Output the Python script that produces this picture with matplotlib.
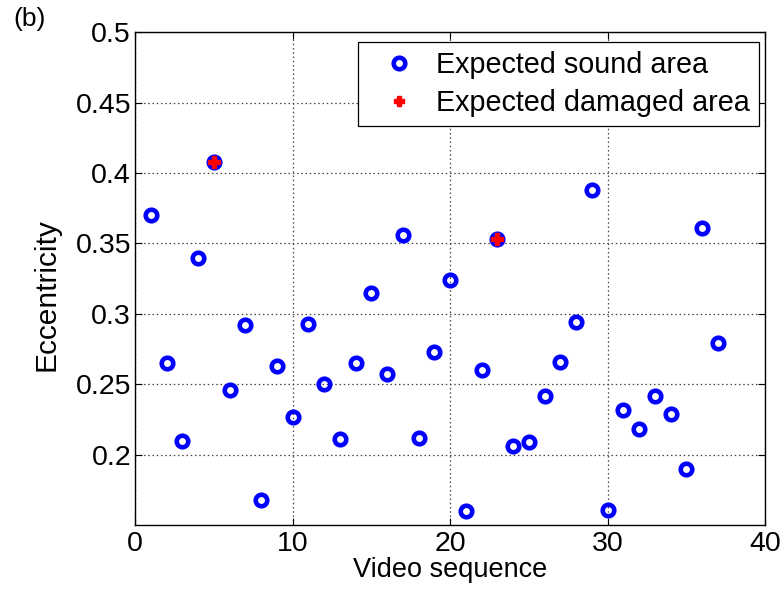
import matplotlib
matplotlib.use("Agg")
import matplotlib.pyplot as plt
import numpy as np

plt.rcParams["font.family"] = ["Liberation Sans", "DejaVu Sans"]

# eccentricity per video sequence
seq = np.arange(1, 38)
ecc = [0.370, 0.265, 0.210, 0.340, 0.408, 0.246, 0.292, 0.168, 0.263, 0.227,
       0.293, 0.250, 0.211, 0.265, 0.315, 0.257, 0.356, 0.212, 0.273, 0.324,
       0.160, 0.260, 0.353, 0.206, 0.209, 0.242, 0.266, 0.294, 0.388, 0.161,
       0.232, 0.218, 0.242, 0.229, 0.190, 0.361, 0.279]
damaged_seq = [5, 23]
damaged_ecc = [0.408, 0.353]

fig = plt.figure(figsize=(7.84, 5.98), dpi=100)
ax = fig.add_axes([0.1725, 0.122, 0.8033, 0.824])

ax.plot(seq, ecc, "o", ls="none", mfc="none", mec="#0000ff", mew=3.3, ms=8.3,
        label="Expected sound area")
ax.plot(damaged_seq, damaged_ecc, "P", ls="none", color="#ff0000", mec="#ff0000",
        ms=8.5, label="Expected damaged area")

ax.set_xlim(0, 40)
ax.set_ylim(0.15, 0.5)
ax.set_xticks([0, 10, 20, 30, 40])
ax.set_yticks([0.2, 0.25, 0.3, 0.35, 0.4, 0.45, 0.5])
ax.set_yticklabels(["0.2", "0.25", "0.3", "0.35", "0.4", "0.45", "0.5"])
ax.grid(True, ls=(0, (1.2, 2.2)), color="#444444", lw=0.9)
ax.tick_params(direction="in", top=True, right=True, length=5, labelsize=20.5)
ax.tick_params(axis="x", pad=4.5)
ax.tick_params(axis="y", pad=3)
for s in ax.spines.values():
    s.set_linewidth(1.0)

ax.set_xlabel("Video sequence", fontsize=19.5, labelpad=0)
ax.set_ylabel("Eccentricity", fontsize=21.5)
ax.yaxis.set_label_coords(-0.118, 0.468)

leg = ax.legend(loc="upper right", bbox_to_anchor=(0.9905, 0.98), borderaxespad=0,
                fontsize=20.7, frameon=True, fancybox=False, edgecolor="black",
                framealpha=1, borderpad=0.32, handletextpad=0.18, handlelength=2.2,
                labelspacing=0.34)
leg.get_frame().set_linewidth(0.9)
leg.legend_handles[1].set_markersize(7)

fig.text(0.0166, 0.9565, "(b)", fontsize=19, va="baseline")

fig.savefig("out.png", dpi=100, facecolor="white")
